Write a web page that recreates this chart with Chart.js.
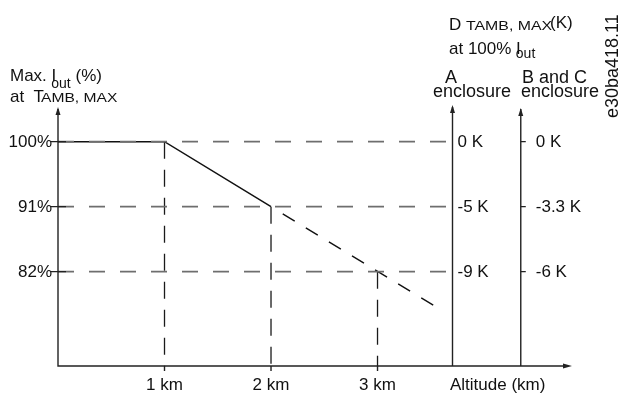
<!DOCTYPE html>
<html>
<head>
<meta charset="utf-8">
<script src="https://cdn.jsdelivr.net/npm/chart.js@4"></script>
<style>
  body { margin: 0; background: #fff; }
</style>
</head>
<body>
<canvas id="derating" width="619" height="396"></canvas>
<script>
const ctx = document.querySelector('#derating')

// derating curve (altitude km -> max output current %)
const deratingKm = [0, 1, 2]
const deratingPct = [100, 100, 91]
// dashed continuation
const extensionKm = [2.11, 3.53]
const extensionPct = [90.0, 77.3]

// reference levels
const yTicks = [100, 91, 82]
const yTickLabels = ['100%', '91%', '82%']
const xTicks = [1, 2, 3]
const xTickLabels = ['1 km', '2 km', '3 km']
const dropPct = [100, 91, 82]

// temperature derating at 100% Iout
const kelvinA = ['0 K', '-5 K', '-9 K']
const kelvinBC = ['0 K', '-3.3 K', '-6 K']

const axisAKm = 3.704
const axisBKm = 4.345
const xMin = 0, xMax = 4.826
const yMin = 68.94, yMax = 104.8

const FONT = '"Liberation Sans", Arial, sans-serif'

const datasets = []

yTicks.forEach(v => {
    datasets.push({
        data: [{ x: xMin, y: v }, { x: axisAKm, y: v }],
        borderColor: '#6e6e6e',
        borderWidth: 1.6,
        borderDash: [16, 15]
    })
})

xTicks.forEach((v, i) => {
    datasets.push({
        data: [{ x: v, y: dropPct[i] }, { x: v, y: yMin }],
        borderColor: '#1a1a1a',
        borderWidth: 1.3,
        borderDash: [17, 11]
    })
})

datasets.push({
    data: deratingKm.map((x, i) => ({ x: x, y: deratingPct[i] })),
    borderColor: '#111',
    borderWidth: 1.5
})

datasets.push({
    data: extensionKm.map((x, i) => ({ x: x, y: extensionPct[i] })),
    borderColor: '#111',
    borderWidth: 1.4,
    borderDash: [14, 13]
})

// draw runs of text with sizes / offsets (for subscripts)
function drawRuns(c, x, y, runs) {
    runs.forEach(r => {
        c.save()
        c.font = (r.size || 17) + 'px ' + FONT
        c.textBaseline = 'alphabetic'
        c.textAlign = 'left'
        const w = c.measureText(r.t).width * (r.sx || 1)
        c.translate(x + (r.dx || 0), y + (r.dy || 0))
        c.scale(r.sx || 1, 1)
        c.fillText(r.t, 0, 0)
        c.restore()
        x += (r.dx || 0) + w
    })
}

function arrowUp(c, x, y) {
    c.beginPath()
    c.moveTo(x, y)
    c.lineTo(x - 2.5, y + 8)
    c.lineTo(x + 2.5, y + 8)
    c.closePath()
    c.fill()
}

const decorations = {
    id: 'decorations',
    afterDatasetsDraw(chart) {
        const c = chart.ctx
        const xs = chart.scales.x
        const ys = chart.scales.y
        const area = chart.chartArea
        const x0 = xs.getPixelForValue(xMin)
        const yb = ys.getPixelForValue(yMin)
        const xA = xs.getPixelForValue(axisAKm)
        const xB = xs.getPixelForValue(axisBKm)

        c.save()
        c.strokeStyle = '#222'
        c.fillStyle = '#222'
        c.lineWidth = 1.4

        // axes
        c.beginPath()
        c.moveTo(x0, area.top + 2); c.lineTo(x0, yb)
        c.lineTo(area.right - 6, yb)
        c.moveTo(xA, area.top); c.lineTo(xA, yb)
        c.moveTo(xB, area.top + 2); c.lineTo(xB, yb)
        c.stroke()
        arrowUp(c, x0, area.top)
        arrowUp(c, xA, area.top - 2)
        arrowUp(c, xB, area.top + 1)
        c.beginPath()
        c.moveTo(area.right, yb)
        c.lineTo(area.right - 9, yb - 2.5)
        c.lineTo(area.right - 9, yb + 2.5)
        c.closePath()
        c.fill()

        // tick marks
        c.beginPath()
        yTicks.forEach(v => {
            const py = ys.getPixelForValue(v)
            c.moveTo(x0 - 7, py); c.lineTo(x0 + 8, py)
            c.moveTo(xB, py); c.lineTo(xB + 5, py)
        })
        xTicks.forEach(v => {
            const px = xs.getPixelForValue(v)
            c.moveTo(px, yb); c.lineTo(px, yb + 5)
        })
        c.stroke()

        // tick labels
        c.fillStyle = '#111'
        c.font = '17px ' + FONT
        c.textBaseline = 'middle'
        c.textAlign = 'right'
        yTicks.forEach((v, i) => c.fillText(yTickLabels[i], x0 - 6, ys.getPixelForValue(v) + 1))
        c.textAlign = 'left'
        yTicks.forEach((v, i) => {
            const py = ys.getPixelForValue(v) + 1
            c.fillText(kelvinA[i], xA + 5, py)
            c.fillText(kelvinBC[i], xB + 15, py)
        })
        c.textBaseline = 'alphabetic'
        c.textAlign = 'center'
        xTicks.forEach((v, i) => c.fillText(xTickLabels[i], xs.getPixelForValue(v), 390))
        c.textAlign = 'left'
        c.fillText('Altitude (km)', 450, 390)

        // axis titles
        drawRuns(c, 10, 81, [
            { t: 'Max. I' },
            { t: 'out', size: 14, dy: 7, dx: -5 },
            { t: ' (%)' }
        ])
        drawRuns(c, 10, 102, [
            { t: 'at  T' },
            { t: 'AMB, MAX', size: 13, sx: 1.2, dx: -3 }
        ])
        drawRuns(c, 449, 30, [
            { t: 'D ' },
            { t: 'TAMB, MAX', size: 13, sx: 1.22, dx: 0 },
            { t: '(K)', dy: -2, dx: -2 }
        ])
        drawRuns(c, 449, 54, [
            { t: 'at 100% I' },
            { t: 'out', size: 14, dy: 4, dx: -5 }
        ])
        drawRuns(c, 445, 83, [{ t: 'A', size: 18 }])
        drawRuns(c, 433, 97, [{ t: 'enclosure', size: 18 }])
        drawRuns(c, 522, 83, [{ t: 'B and C', size: 18 }])
        drawRuns(c, 521, 97, [{ t: 'enclosure', size: 18 }])

        // drawing id, rotated
        c.translate(618, 118)
        c.rotate(-Math.PI / 2)
        c.font = '18px ' + FONT
        c.textAlign = 'left'
        c.fillText('e30ba418.11', 0, 0)
        c.restore()
    }
}

new Chart(ctx, {
    type: 'scatter',
    data: { datasets: datasets },
    options: {
        responsive: false,
        animation: false,
        showLine: true,
        layout: {
            padding: { left: 58, right: 47, top: 107, bottom: 30 }
        },
        elements: {
            point: { radius: 0, hoverRadius: 0 },
            line: { tension: 0, borderCapStyle: 'butt' }
        },
        plugins: {
            legend: false,
            tooltip: { enabled: false }
        },
        scales: {
            x: { type: 'linear', display: false, min: xMin, max: xMax },
            y: { type: 'linear', display: false, min: yMin, max: yMax }
        }
    },
    plugins: [decorations]
})
</script>
</body>
</html>
